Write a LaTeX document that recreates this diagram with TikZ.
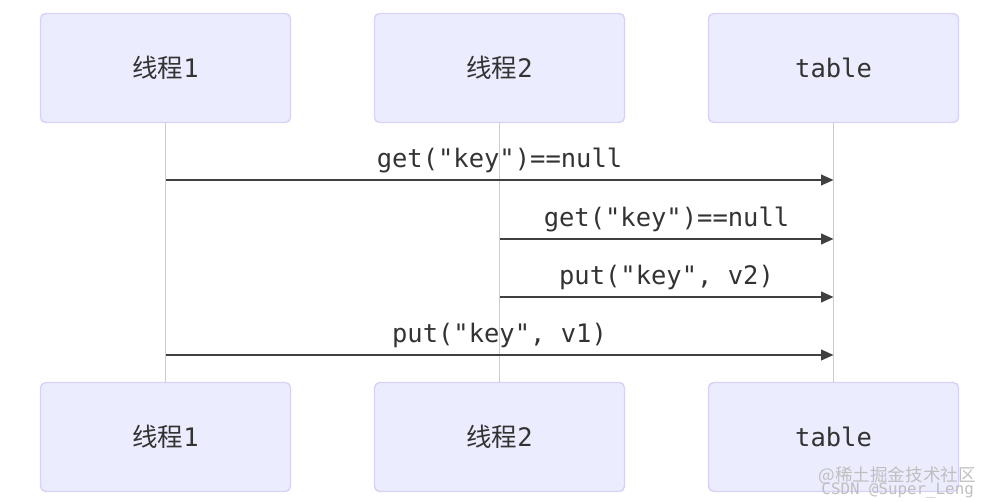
\documentclass[tikz,border=0pt]{standalone}
\usepackage{fontspec}
\setmonofont{DejaVu Sans Mono}
\newfontfamily\cjk{Noto Sans CJK SC}
\usetikzlibrary{arrows.meta}
\definecolor{boxfill}{HTML}{ECECFF}
\definecolor{boxdraw}{HTML}{D6D2F5}
\definecolor{txt}{HTML}{333333}
\begin{document}
\begin{tikzpicture}[x=0.02cm,y=-0.02cm,
  actor/.style={draw=boxdraw,fill=boxfill,rounded corners=3pt,minimum width=250*0.02cm,minimum height=109*0.02cm,inner sep=0,font=\ttfamily\fontsize{14.5}{16}\selectfont,text=txt,line width=0.8pt},
  life/.style={draw=black!20,line width=0.7pt},
  msg/.style={draw=black!75,line width=1.1pt,-{Triangle[length=7pt,width=6pt]}},
  lab/.style={font=\ttfamily\fontsize{14.5}{16}\selectfont,text=txt}]
\useasboundingbox (0,0) rectangle (994,502);
\node[actor] (t1) at (165.5,68) {\cjk 线程\ttfamily 1};
\node[actor] (t2) at (499.5,68) {\cjk 线程\ttfamily 2};
\node[actor] (tb) at (833.5,68) {table};
\node[actor] (b1) at (165.5,437) {\cjk 线程\ttfamily 1};
\node[actor] (b2) at (499.5,437) {\cjk 线程\ttfamily 2};
\node[actor] (bb) at (833.5,437) {table};
\draw[life] (t1) -- (b1);
\draw[life] (t2) -- (b2);
\draw[life] (tb) -- (bb);
\coordinate (a1) at (165.5,180); \coordinate (e1) at (833.5,180);
\coordinate (a2) at (499.5,239); \coordinate (e2) at (833.5,239);
\coordinate (a3) at (499.5,297); \coordinate (e3) at (833.5,297);
\coordinate (a4) at (165.5,355); \coordinate (e4) at (833.5,355);
\draw[msg] (a1) -- node[lab,above=0pt] (l1) {get("key")==null} (e1);
\draw[msg] (a2) -- node[lab,above=0pt] (l2) {get("key")==null} (e2);
\draw[msg] (a3) -- node[lab,above=0pt] (l3) {put("key", v2)} (e3);
\draw[msg] (a4) -- node[lab,above=0pt] (l4) {put("key", v1)} (e4);
\node[text=black!25,font=\cjk\fontsize{10}{11}\selectfont,anchor=east] (wm1) at (982,476) {@稀土掘金技术社区};
\node[text=black!25,font=\ttfamily\fontsize{9}{10}\selectfont,anchor=east] (wm2) at (980,490) {CSDN @Super\_Leng};
\end{tikzpicture}
\end{document}
